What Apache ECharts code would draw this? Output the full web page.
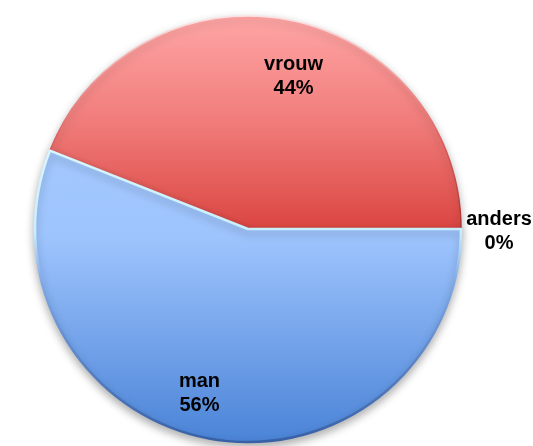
<!DOCTYPE html>
<html>
<head>
<meta charset="utf-8">
<script src="https://cdn.jsdelivr.net/npm/echarts@6/dist/echarts.min.js"></script>
<style>
  html, body { margin: 0; padding: 0; background: #fff; }
  #chart { width: 533px; height: 446px; }
</style>
</head>
<body>
<div id="chart"></div>
<script>
const categories = ['anders', 'vrouw', 'man'];
const values = [0, 44, 56];

// label nudges per slice [dx, dy]
const labelShift = [[38, 2], [25, -45], [-28, 57]];

const grad = (stops) => new echarts.graphic.LinearGradient(0, 0, 0, 1,
  stops.map(([offset, color]) => ({ offset, color })));

const sliceStyles = [
  { color: '#dc4a47' },
  {
    color: grad([[0, '#ffa6a6'], [0.5, '#f07c7a'], [1, '#db4541']]),
    borderColor: grad([[0, '#ffe2e2'], [0.6, '#d85a58'], [1, '#a93533']]),
    borderWidth: 1.5
  },
  {
    color: grad([[0, '#a3c8ff'], [0.3, '#9ec4fd'], [1, '#4a83d7']]),
    borderColor: grad([[0, '#d8f6ff'], [0.28, '#c8efff'], [0.45, '#7fa8e6'], [1, '#365fa6']]),
    borderWidth: 2.5
  }
];

const chart = echarts.init(document.getElementById('chart'));

chart.setOption({
  animation: false,
  series: [
    {
      type: 'pie',
      center: [248, 229],
      radius: 213,
      startAngle: 0,
      clockwise: false,
      avoidLabelOverlap: false,
      itemStyle: {
        shadowBlur: 8,
        shadowOffsetY: 4,
        shadowColor: 'rgba(0, 0, 0, 0.3)'
      },
      label: {
        position: 'inside',
        formatter: '{b}\n{d}%',
        color: '#000',
        fontFamily: 'Liberation Sans, Arial, sans-serif',
        fontWeight: 'bold',
        fontSize: 20,
        lineHeight: 24
      },
      labelLine: { show: false },
      labelLayout(params) {
        const s = labelShift[params.dataIndex];
        return { dx: s[0], dy: s[1], align: 'center' };
      },
      data: categories.map((name, i) => ({
        name,
        value: values[i],
        itemStyle: sliceStyles[i],
        label: i === 0 ? { position: 'outside', distanceToLabelLine: 0 } : undefined,
        labelLine: i === 0 ? { show: false, length: 0, length2: 0 } : undefined
      }))
    }
  ]
});
</script>
</body>
</html>
